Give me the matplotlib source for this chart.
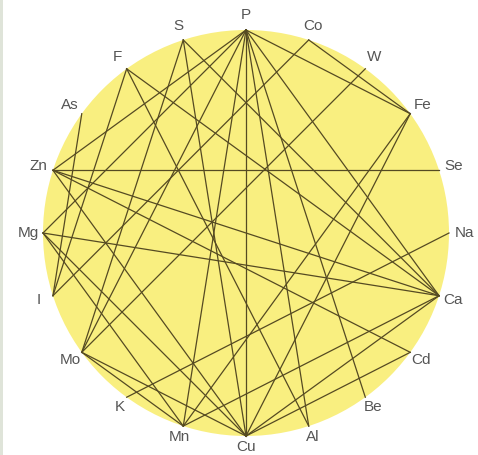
import numpy as np
import matplotlib
matplotlib.use("Agg")
import matplotlib.pyplot as plt
from matplotlib.patches import Circle, Rectangle

# elements clockwise from the top, 18 degrees apart
elements = ["P", "Co", "W", "Fe", "Se", "Na", "Ca", "Cd", "Be", "Al",
            "Cu", "Mn", "K", "Mo", "I", "Mg", "Zn", "As", "F", "S"]

# interactions drawn as straight lines
links = [
    ("P", "Cu"), ("P", "Fe"), ("P", "Zn"), ("P", "Mg"), ("P", "Mo"),
    ("P", "Mn"), ("P", "Be"), ("P", "Al"), ("P", "Ca"),
    ("Co", "Fe"), ("Co", "I"), ("W", "Mo"),
    ("Fe", "Cu"), ("Fe", "Mn"),
    ("Zn", "Se"), ("Zn", "Ca"), ("Zn", "Cd"), ("Zn", "Cu"),
    ("Na", "K"),
    ("Ca", "Mg"), ("Ca", "S"), ("Ca", "F"), ("Ca", "Mn"), ("Ca", "Cu"),
    ("Cd", "Cu"), ("Mg", "Cu"), ("Mg", "Mn"),
    ("S", "Cu"), ("S", "Mo"), ("Mo", "Cu"), ("Mo", "Mn"),
    ("F", "I"), ("F", "Al"), ("As", "I"),
]

R = 203.0  # circle radius in pixels
angles = np.deg2rad(90 - 18 * np.arange(len(elements)))
pos = {e: (np.cos(a), np.sin(a)) for e, a in zip(elements, angles)}

fig = plt.figure(figsize=(4.78, 4.55), dpi=100)
fig.patches.append(Rectangle((0, 0), 3 / 478, 1, transform=fig.transFigure,
                             facecolor="#dfe4d9", edgecolor="none"))
ax = fig.add_axes([0, 0, 1, 1])
ax.set_xlim(-246 / R, 232 / R)
ax.set_ylim(-222 / R, 233 / R)
ax.axis("off")

ax.add_patch(Circle((0, 0), 1.0, facecolor="#f9ef80", edgecolor="none", zorder=1))

for a, b in links:
    x0, y0 = pos[a]
    x1, y1 = pos[b]
    ax.plot([x0, x1], [y0, y1], color="#554a22", lw=0.9, zorder=2)

for e, a in zip(elements, angles):
    c, s = np.cos(a), np.sin(a)
    d = 15 - 4 * max(0.0, -s) ** 2
    ax.text((1 + d / R) * c, (1 + d / R) * s, e, ha="center", va="center",
            fontsize=11, color="#555555",
            family=["Liberation Sans Narrow", "Liberation Sans", "DejaVu Sans"],
            zorder=3)

fig.savefig("out.png", dpi=100)
